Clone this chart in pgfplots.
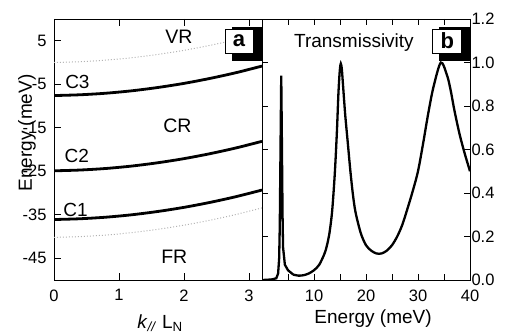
\documentclass[border=0pt]{standalone}
\usepackage{pgfplots}
\pgfplotsset{compat=1.18}
\usepackage{fontspec}
\setmainfont{Liberation Sans}
\begin{document}
\begin{tikzpicture}
\pgfplotsset{
  every axis/.append style={
    scale only axis, width=208bp, height=261bp,
    tick align=inside, major tick length=7bp, minor tick length=7bp,
    tick style={black, line width=0.8bp},
    axis line style={line width=0.9bp},
    /pgf/number format/assume math mode=true,
    tick label style={font=\fontsize{16.5bp}{18bp}\selectfont},
    label style={font=\fontsize{19bp}{22bp}\selectfont},
  }
}
\begin{axis}[name=left, at={(0,0)}, anchor=south west,
  xmin=0, xmax=3.2, ymin=-50, ymax=10,
  xtick={0,1,2,3}, ytick={-45,-35,-25,-15,-5,5},
  xtick pos=both, ytick pos=left,
  xticklabel style={yshift=-6bp},
  yticklabel style={xshift=-4bp},
  xlabel={\textit{k}\textsubscript{\textit{//}} L\textsubscript{N}},
  xlabel style={at={(axis description cs:0.51,-0.165)}, anchor=center},
  ylabel={Energy (meV)},
  ylabel style={at={(axis description cs:-0.13,0.563)}, anchor=center},
  clip=true,
]
\addplot[gray!60, dotted, line width=1bp, smooth] coordinates {(0,0) (0.4,0.18) (0.8,0.54) (1.2,1.10) (1.6,1.86) (2.0,2.80) (2.4,3.94) (2.8,5.26) (3.2,6.78)};
\addplot[black, line width=2.8bp, smooth] coordinates {(0,-7.6) (0.4,-7.42) (0.8,-7.06) (1.2,-6.50) (1.6,-5.74) (2.0,-4.80) (2.4,-3.66) (2.8,-2.34) (3.2,-0.82)};
\addplot[black, line width=2.8bp, smooth] coordinates {(0,-24.9) (0.4,-24.72) (0.8,-24.36) (1.2,-23.80) (1.6,-23.04) (2.0,-22.10) (2.4,-20.96) (2.8,-19.64) (3.2,-18.12)};
\addplot[black, line width=2.8bp, smooth] coordinates {(0,-36.1) (0.4,-35.92) (0.8,-35.56) (1.2,-35.0) (1.6,-34.24) (2.0,-33.3) (2.4,-32.16) (2.8,-30.84) (3.2,-29.32)};
\addplot[gray!60, dotted, line width=1bp, smooth] coordinates {(0,-40.2) (0.4,-40.02) (0.8,-39.66) (1.2,-39.1) (1.6,-38.34) (2.0,-37.4) (2.4,-36.26) (2.8,-34.94) (3.2,-33.42)};
\fill[black] (rel axis cs:0.856,0.839) rectangle (rel axis cs:1,0.969);
\filldraw[fill=white, draw=black, line width=0.8bp] (rel axis cs:0.822,0.870) rectangle (rel axis cs:0.957,0.962);
\node[font=\fontsize{22bp}{24bp}\selectfont\bfseries] at (rel axis cs:0.8895,0.916) {a};
\node[font=\fontsize{19.5bp}{22bp}\selectfont] at (axis cs:1.92,5.9) {VR};
\node[font=\fontsize{19.5bp}{22bp}\selectfont] at (axis cs:1.90,-14.6) {CR};
\node[font=\fontsize{19.5bp}{22bp}\selectfont] at (axis cs:1.85,-44.6) {FR};
\node[font=\fontsize{19bp}{22bp}\selectfont] at (axis cs:0.36,-4.4) {C3};
\node[font=\fontsize{19bp}{22bp}\selectfont] at (axis cs:0.35,-21.5) {C2};
\node[font=\fontsize{19bp}{22bp}\selectfont] at (axis cs:0.33,-33.9) {C1};
\end{axis}
\begin{axis}[name=right, at={(208bp,0)}, anchor=south west,
  xmin=0, xmax=40, ymin=0, ymax=1.2,
  xtick={10,20,30,40}, minor xtick={5,15,25,35},
  ytick={0,0.2,0.4,0.6,0.8,1.0,1.2},
  xtick pos=both, ytick pos=both, yticklabel pos=right,
  major tick length=6bp, minor tick length=6bp,
  xticklabel style={yshift=-6bp},
  yticklabel style={xshift=-2bp, /pgf/number format/.cd, fixed, fixed zerofill, precision=1},
  xlabel={Energy (meV)},
  xlabel style={at={(axis description cs:0.534,-0.146)}, anchor=center},
]
\addplot[black, line width=2.3bp] coordinates {
(0,0) (1,0.001) (2,0.003) (2.75,0.008) (3.1,0.03) (3.3,0.1) (3.42,0.25) (3.6,0.7) (3.7,0.94) (3.8,0.7) (3.95,0.3) (4.05,0.15) (4.4,0.07) (5.0,0.045) (6,0.025)};
\addplot[black, line width=2.3bp, smooth, tension=0.5] coordinates {
(6,0.025) (7,0.02) (8,0.022) (9,0.03) (10,0.045) (11,0.07) (12,0.12) (12.5,0.16) (13,0.22) (13.5,0.32) (14,0.49) (14.4,0.68) (14.7,0.86) (14.95,0.96) (15.15,0.995) (15.35,0.97) (15.6,0.89) (16,0.76) (16.5,0.63) (17,0.5) (17.5,0.39) (18,0.31) (19,0.215) (20,0.16) (21,0.135) (22,0.122) (23,0.122) (24,0.135) (25,0.16) (26,0.2) (27,0.255) (28,0.33) (29,0.41) (30,0.50) (31,0.63) (32,0.77) (33,0.89) (34.4,1.0) (35.6,0.94) (36.3,0.87) (37,0.78) (38,0.67) (39,0.58) (40,0.5)};
\fill[black] (rel axis cs:0.851,0.839) rectangle (rel axis cs:1,0.969);
\filldraw[fill=white, draw=black, line width=0.8bp] (rel axis cs:0.821,0.870) rectangle (rel axis cs:0.960,0.962);
\node[font=\fontsize{22bp}{24bp}\selectfont\bfseries] at (rel axis cs:0.8905,0.916) {b};
\node[font=\fontsize{19bp}{22bp}\selectfont] at (rel axis cs:0.442,0.908) {Transmissivity};
\end{axis}
\pgfresetboundingbox
\useasboundingbox (-54bp,-56bp) rectangle (456bp,280bp);
\end{tikzpicture}
\end{document}
